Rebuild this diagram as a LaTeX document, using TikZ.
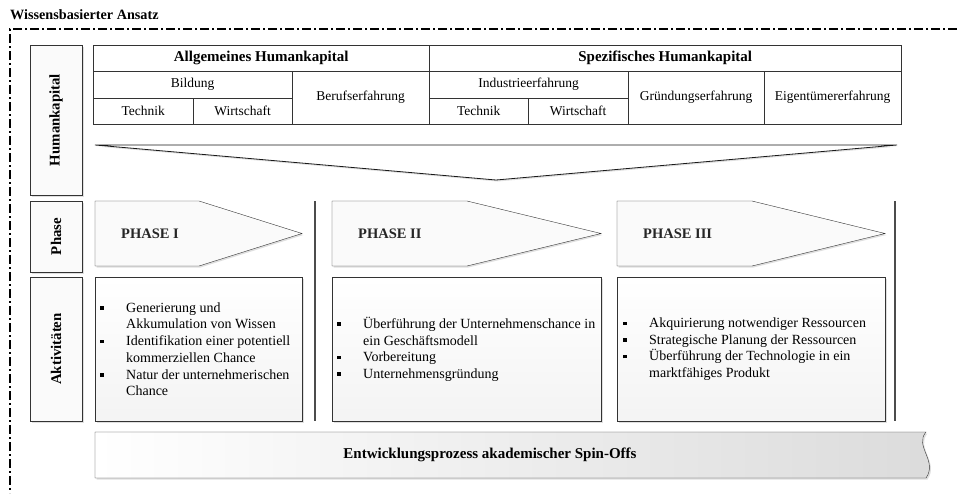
\documentclass[tikz,border=0pt]{standalone}
\usepackage{fontspec}
\setmainfont{Liberation Serif}
\usetikzlibrary{positioning,shadows,calc}

\newcommand{\bul}{\makebox[26pt][l]{\raisebox{2.5pt}{\rule{3.5pt}{3.5pt}}}}
\newcommand{\ind}{\hspace*{26pt}}

\tikzset{
  soft/.style={drop shadow={shadow xshift=1.5pt,shadow yshift=-1.5pt,opacity=.25}},
  frame/.style={line width=1.3pt,dash pattern=on 9pt off 3pt on 2pt off 3pt},
  cell/.style={draw=black!80,fill=white,anchor=north west,inner sep=0pt,
    minimum height=26pt,font=\fontsize{13.5}{16}\selectfont},
  headcell/.style={cell,font=\bfseries\fontsize{15}{17}\selectfont},
  sidebox/.style={draw=black!80,fill=gray!4,rotate=90,inner sep=0pt,soft,
    font=\bfseries\fontsize{14.8}{17}\selectfont},
  phasearrow/.style={draw=black!80,fill=gray!4,soft},
  phaselabel/.style={anchor=west,inner sep=0pt,text=black!85,
    font=\bfseries\fontsize{14.5}{17}\selectfont},
  actbox/.style={draw=black!80,top color=white,bottom color=gray!9,soft,
    anchor=north west,inner sep=0pt,minimum height=144pt},
  acttext/.style={anchor=west,align=left,inner sep=0pt,
    font=\fontsize{14}{16.7}\selectfont},
  sep/.style={draw=gray!60!black,line width=1.2pt},
  banner/.style={draw=black!80,left color=white,right color=gray!28,soft},
}

\begin{document}
\begin{tikzpicture}[x=1pt,y=-1pt]
  \useasboundingbox (0,0) rectangle (957,493);

  % title and frame
  \node[anchor=west,inner sep=0pt,font=\bfseries\fontsize{14.2}{16}\selectfont]
    (title) at (10,15) {Wissensbasierter Ansatz};
  \draw[frame] (957,29) -- (10,29) -- (10,493);

  % left column
  \node[sidebox,minimum width=150pt,minimum height=52pt] (hk) at (56,120) {Humankapital};
  \node[sidebox,minimum width=71pt,minimum height=52pt] (ph) at (56,236.5) {Phase};
  \node[sidebox,minimum width=144pt,minimum height=52pt] (ak) at (56,349) {Aktivitäten};

  % human capital table
  \node[headcell,minimum width=336pt] (allg) at (93,45) {Allgemeines Humankapital};
  \node[headcell,minimum width=472pt] (spez) at (429,45) {Spezifisches Humankapital};
  \node[cell,minimum width=199pt,minimum height=26.5pt] (bild) at (93,71) {Bildung};
  \node[cell,minimum width=100pt] (tech1) at (93,97.5) {Technik};
  \node[cell,minimum width=99pt] (wirt1) at (193,97.5) {Wirtschaft};
  \node[cell,minimum width=137pt,minimum height=53pt] (beruf) at (292,71) {Berufserfahrung};
  \node[cell,minimum width=199pt,minimum height=26.5pt] (indu) at (429,71) {Industrieerfahrung};
  \node[cell,minimum width=99pt] (tech2) at (429,97.5) {Technik};
  \node[cell,minimum width=100pt] (wirt2) at (528,97.5) {Wirtschaft};
  \node[cell,minimum width=136pt,minimum height=53pt] (gruend) at (628,71) {Gründungserfahrung};
  \node[cell,minimum width=137pt,minimum height=53pt] (eigen) at (764,71) {Eigentümererfahrung};

  % funnel
  \coordinate (fl) at (95,145);
  \coordinate (fr) at (897,145);
  \coordinate (ft) at (496,180);
  \draw[draw=black!90,line width=0.8pt,fill=white,soft] (fl) -- (fr) -- (ft) -- cycle;

  % phases
  \foreach \name/\xa/\xs/\xt/\lbl in {ph1/95/199/302/PHASE I,ph2/332/467/601/PHASE II,ph3/617/752/885/PHASE III} {
    \draw[phasearrow] (\xa,201) -- (\xs,201) -- (\xt,233.5) -- (\xs,266) -- (\xa,266) -- cycle;
    \node[phaselabel] (\name) at (\xa+26,233.5) {\lbl};
  }

  % separators
  \coordinate (s1t) at (315,201);
  \coordinate (s1b) at (315,421);
  \coordinate (s2t) at (895,201);
  \coordinate (s2b) at (895,421);
  \draw[sep] (s1t) -- (s1b);
  \draw[sep] (s2t) -- (s2b);

  % activities
  \node[actbox,minimum width=207pt] (act1) at (95,277) {};
  \node[actbox,minimum width=269pt] (act2) at (332,277) {};
  \node[actbox,minimum width=268pt] (act3) at (617,277) {};
  \node[acttext] (txt1) at ($(act1.west)+(5,0)$)
    {\bul Generierung und\\ \ind Akkumulation von Wissen\\
     \bul Identifikation einer potentiell\\ \ind kommerziellen Chance\\
     \bul Natur der unternehmerischen\\ \ind Chance};
  \node[acttext] (txt2) at ($(act2.west)+(5,0)$)
    {\bul Überführung der Unternehmenschance in\\ \ind ein Geschäftsmodell\\
     \bul Vorbereitung\\
     \bul Unternehmensgründung};
  \node[acttext] (txt3) at ($(act3.west)+(6,0)$)
    {\bul Akquirierung notwendiger Ressourcen\\
     \bul Strategische Planung der Ressourcen\\
     \bul Überführung der Technologie in ein\\ \ind marktfähiges Produkt};

  % development banner
  \draw[banner] (95,432) -- (926,432) .. controls (914,446) and (938,461) .. (926,478) -- (95,478) -- cycle;
  \node[font=\bfseries\fontsize{15}{17}\selectfont] (entw) at (490,455)
    {Entwicklungsprozess akademischer Spin-Offs};
\end{tikzpicture}
\end{document}
